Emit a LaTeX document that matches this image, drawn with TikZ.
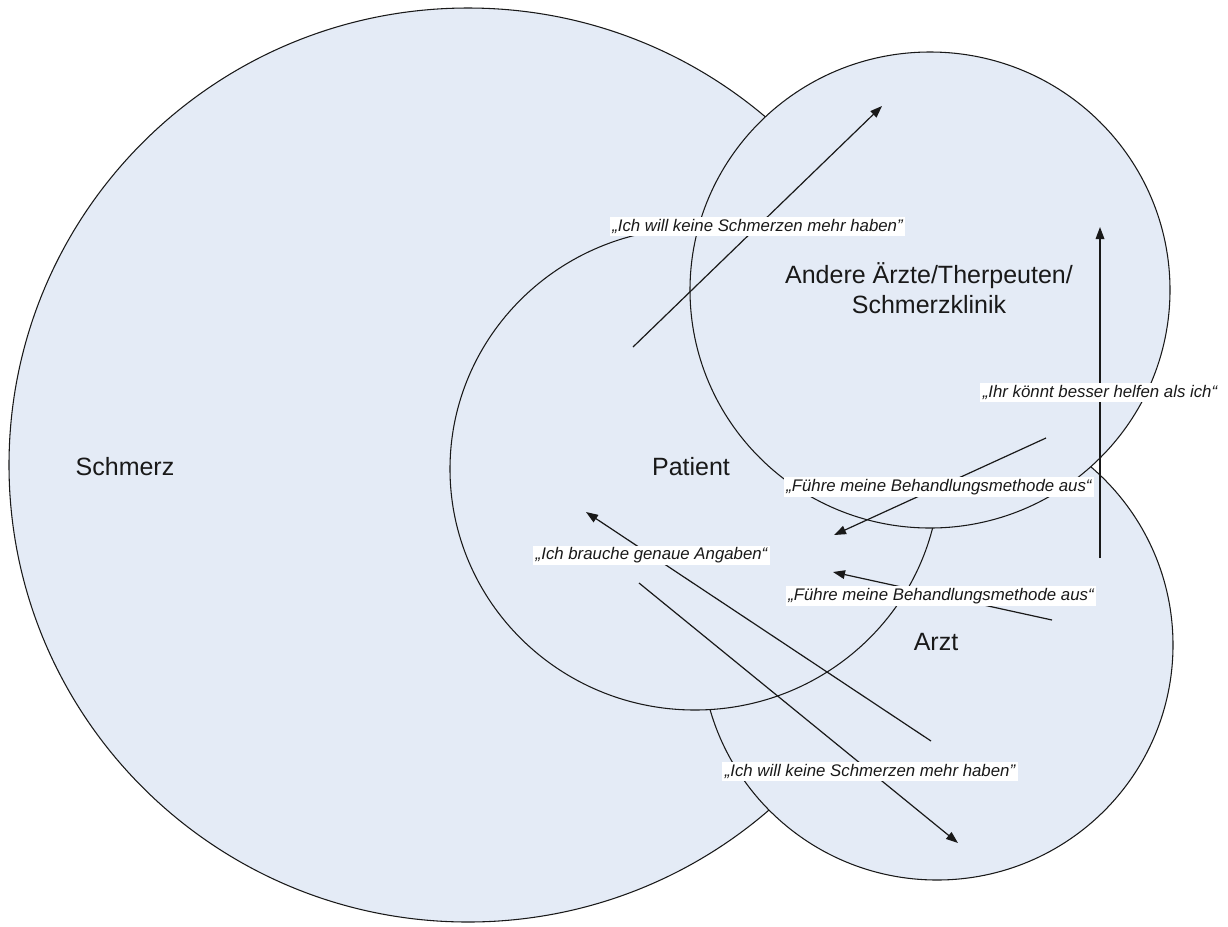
\documentclass[tikz,border=0pt]{standalone}
\usepackage{fontspec}
\setmainfont{Liberation Sans}
\usetikzlibrary{arrows.meta}
\definecolor{fillcolor}{RGB}{228,235,246}
\definecolor{edgecolor}{RGB}{25,25,25}

\begin{document}
\begin{tikzpicture}[x=0.75pt, y=-0.75pt]
    % Define the styles for the circles, names, quotes and arrows
    \tikzstyle{zone} = [draw=edgecolor, line width=0.8pt, fill=fillcolor]
    \tikzstyle{title} = [font=\fontsize{18.75}{22.5}\selectfont, align=center, text=edgecolor]
    \tikzstyle{quote} = [fill=white, inner xsep=2pt, inner ysep=1.6pt, text=edgecolor, font=\fontsize{12.6}{14}\selectfont\itshape]
    \tikzstyle{flow} = [-{Triangle[length=9pt, width=6.5pt]}, line width=0.9pt, draw=edgecolor]

    \useasboundingbox (0,0) rectangle (1228,926);

    % Circles, from back to front
    \draw[zone] (468,465) ellipse [x radius=459, y radius=457];
    \draw[zone] (937,645) ellipse [x radius=236, y radius=235];
    \draw[zone] (695,469) ellipse [x radius=245, y radius=241];
    \draw[zone] (930,290) ellipse [x radius=240, y radius=238];

    % Names of the circles
    \node[title] (schmerz) at (125,467) {Schmerz};
    \node[title] (patient) at (691,467) {Patient};
    \node[title] (andere) at (929,288) {Andere Ärzte/Therpeuten/\\Schmerzklinik};
    \node[title] (arzt) at (936,642) {Arzt};

    % Ends of the arrows
    \coordinate (wish1 start) at (633,347);
    \coordinate (wish1 end) at (882,106);
    \coordinate (help start) at (1100,558);
    \coordinate (help end) at (1100,227);
    \coordinate (method1 start) at (1046,438);
    \coordinate (method1 end) at (834,535);
    \coordinate (method2 start) at (1052,620);
    \coordinate (method2 end) at (833,572);
    \coordinate (info start) at (931,741);
    \coordinate (info end) at (586,512);
    \coordinate (wish2 start) at (639,583);
    \coordinate (wish2 end) at (958,843);

    % Arrows with what is said along them
    \draw[flow] (wish1 start) -- (wish1 end)
        node[quote, pos=0.5] (wish1) {„Ich will keine Schmerzen mehr haben”};
    \draw[flow] (help start) -- (help end)
        node[quote, pos=0.5] (help) {„Ihr könnt besser helfen als ich“};
    \draw[flow] (method1 start) -- (method1 end)
        node[quote, pos=0.505] (method1) {„Führe meine Behandlungsmethode aus“};
    \draw[flow] (method2 start) -- (method2 end)
        node[quote, pos=0.507] (method2) {„Führe meine Behandlungsmethode aus“};
    \draw[flow] (info start) -- (info end)
        node[quote, pos=0.81] (info) {„Ich brauche genaue Angaben“};
    \draw[flow] (wish2 start) -- (wish2 end)
        node[quote, pos=0.724] (wish2) {„Ich will keine Schmerzen mehr haben”};
\end{tikzpicture}
\end{document}
